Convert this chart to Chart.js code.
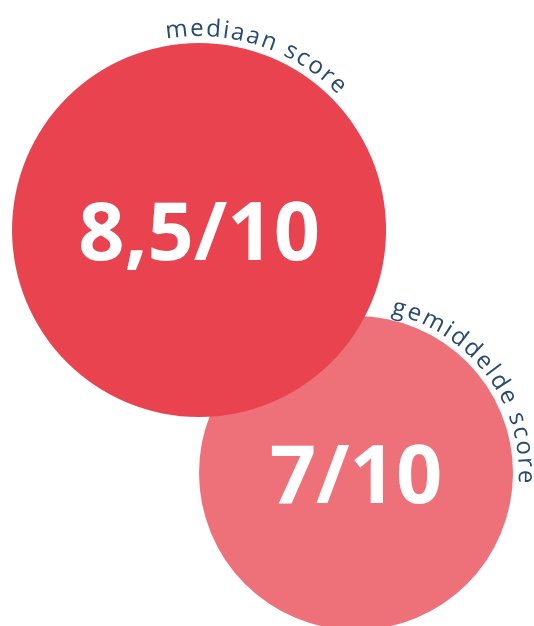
<!DOCTYPE html>
<html>
<head>
<meta charset="utf-8">
<script src="https://cdn.jsdelivr.net/npm/chart.js@4.4.1/dist/chart.umd.min.js"></script>
<style>
  html, body { margin: 0; padding: 0; background: #fff; }
  #wrap { width: 534px; height: 626px; }
</style>
</head>
<body>
<div id="wrap"><canvas id="scoreChart"></canvas></div>
<script>
// data
const categories = ['mediaan score', 'gemiddelde score'];
const scores = [8.5, 7];
const scoreLabels = ['8,5/10', '7/10'];
const xPos = [0, 1];
const yPos = [1, 0];
const colors = ['#e8434f', '#ee717a'];

// bubble radius (px) from the score
const radiusFor = s => 17 + 20 * s;
// curved label: start / end angle (degrees, clockwise from the top) and gap to the rim
const labelStart = [-10, 12];
const labelEnd = [46, 94];
const labelGap = [7, 6];

const curvedLabels = {
    id: 'curvedLabels',
    afterDatasetsDraw(chart) {
        const ctx = chart.ctx;
        chart.data.datasets.forEach((ds, i) => {
            const el = chart.getDatasetMeta(i).data[0];
            const r = el.options.radius;

            // big score inside the bubble
            ctx.save();
            ctx.fillStyle = '#ffffff';
            ctx.font = 'bold 81px "Open Sans"';
            ctx.textAlign = 'center';
            ctx.textBaseline = 'alphabetic';
            ctx.fillText(scoreLabels[i], el.x, el.y + 30);
            ctx.restore();

            // category name along the rim
            ctx.save();
            ctx.fillStyle = '#274a72';
            ctx.font = '500 24px "Open Sans"';
            ctx.textAlign = 'center';
            ctx.textBaseline = 'alphabetic';
            const R = r + labelGap[i];
            const text = categories[i];
            const arc = (labelEnd[i] - labelStart[i]) * Math.PI / 180 * R;
            const spacing = (arc - ctx.measureText(text).width) / text.length;
            let angle = labelStart[i] * Math.PI / 180;
            for (const ch of text) {
                const w = ctx.measureText(ch).width + spacing;
                const half = (w / 2) / R;
                angle += half;
                ctx.save();
                ctx.translate(el.x + R * Math.sin(angle), el.y - R * Math.cos(angle));
                ctx.rotate(angle);
                ctx.fillText(ch, 0, 0);
                ctx.restore();
                angle += half;
            }
            ctx.restore();
        });
    }
};

new Chart(document.getElementById('scoreChart'), {
    type: 'bubble',
    data: {
        datasets: categories.map((c, i) => ({
            label: c,
            data: [{ x: xPos[i], y: yPos[i], r: radiusFor(scores[i]) }],
            backgroundColor: colors[i],
            hoverBackgroundColor: colors[i],
            borderWidth: 0,
            hoverBorderWidth: 0,
            clip: false
        }))
    },
    options: {
        responsive: true,
        maintainAspectRatio: false,
        animation: false,
        events: [],
        layout: { padding: 0, autoPadding: false },
        scales: {
            x: { display: false, min: -1.268, max: 2.134 },
            y: { display: false, min: -0.63, max: 1.947 }
        },
        plugins: {
            legend: { display: false },
            tooltip: { enabled: false }
        }
    },
    plugins: [curvedLabels]
});
</script>
</body>
</html>
